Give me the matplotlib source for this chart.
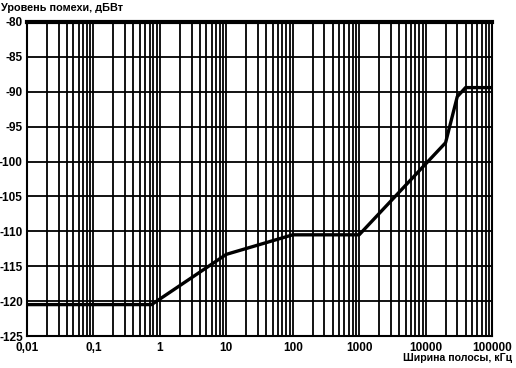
import numpy as np
import matplotlib
matplotlib.use("Agg")
import matplotlib.pyplot as plt
from matplotlib.ticker import FixedLocator, LogLocator, NullFormatter

# data
bandwidth_khz = [0.01, 0.75, 10, 100, 1000, 20000, 30000, 40000, 100000]
noise_dbw = [-120.5, -120.5, -113.3, -110.5, -110.5, -97.3, -90.7, -89.4, -89.4]

x_ticks = [0.01, 0.1, 1, 10, 100, 1000, 10000, 100000]
x_labels = ["0,01", "0,1", "1", "10", "100", "1000", "10000", "100000"]
y_ticks = list(range(-125, -79, 5))

plt.rcParams["font.family"] = ["Liberation Sans", "DejaVu Sans"]

fig = plt.figure(figsize=(5.16, 3.68), dpi=100)
ax = fig.add_axes([27 / 516, 32 / 368, 465 / 516, 314 / 368])

ax.set_xscale("log")
ax.set_xlim(0.01, 100000)
ax.set_ylim(-125, -80)

ax.xaxis.set_major_locator(FixedLocator(x_ticks))
ax.xaxis.set_minor_locator(LogLocator(base=10, subs=np.arange(2, 10)))
ax.xaxis.set_minor_formatter(NullFormatter())
ax.set_xticks(x_ticks)
ax.set_xticklabels(x_labels)
ax.set_yticks(y_ticks)
ax.set_yticklabels([str(v) for v in y_ticks])

ax.grid(True, which="both", axis="x", color="black", linewidth=1.3)
ax.grid(True, which="major", axis="y", color="black", linewidth=1.3)
ax.tick_params(which="both", length=0, labelsize=8.5)
ax.tick_params(axis="x", pad=4)
ax.tick_params(axis="y", pad=3)
for lbl in ax.get_xticklabels() + ax.get_yticklabels():
    lbl.set_fontweight("bold")

for side in ["left", "bottom", "right"]:
    ax.spines[side].set_linewidth(1.5)
ax.spines["top"].set_linewidth(3)

ax.plot(bandwidth_khz, noise_dbw, color="black", linewidth=2.4, zorder=5)

fig.text(1 / 516, 1 - 8 / 368, "Уровень помехи, дБВт", fontsize=7.8,
         fontweight="bold", ha="left", va="center")
fig.text(512 / 516, 1 - 358 / 368, "Ширина полосы, кГц", fontsize=7.6,
         fontweight="bold", ha="right", va="center")

fig.savefig("out.png", dpi=100)
